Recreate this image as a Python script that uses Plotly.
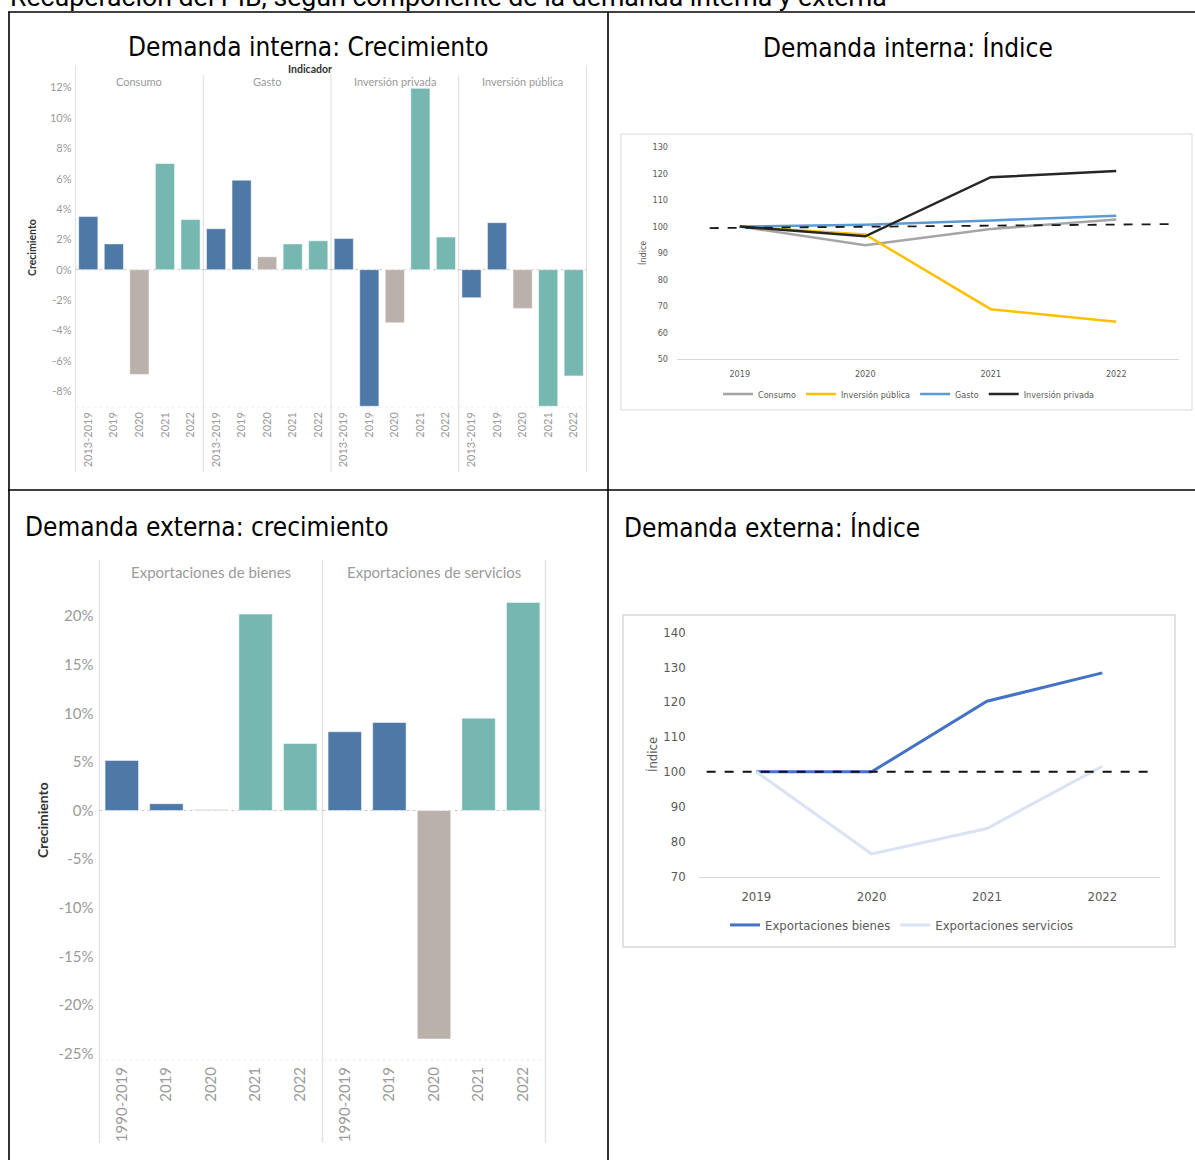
import plotly.graph_objects as go

W, H = 1195, 1160
def px(x): return x / W
def py(y): return 1 - y / H

# ---------------- DATA ----------------
main_title = "Recuperación del PIB, según componente de la demanda interna y externa"

# Panel 1: demanda interna, crecimiento (%)
periods_int = ["2013-2019", "2019", "2020", "2021", "2022"]
indicadores = ["Consumo", "Gasto", "Inversión privada", "Inversión pública"]
crec_consumo = [3.5, 1.7, -6.9, 7.0, 3.3]
crec_gasto = [2.7, 5.9, 0.85, 1.7, 1.9]
crec_inv_priv = [2.05, -9.0, -3.5, 11.95, 2.15]
crec_inv_pub = [-1.85, 3.1, -2.55, -9.0, -7.0]
yticks_int = [-8, -6, -4, -2, 0, 2, 4, 6, 8, 10, 12]
yticklabels_int = ["-8%", "-6%", "-4%", "-2%", "0%", "2%", "4%", "6%", "8%", "10%", "12%"]

# Panel 2: demanda interna, índice
years = ["2019", "2020", "2021", "2022"]
idx_consumo = [100, 92.9, 99.1, 102.6]
idx_inv_pub = [100, 97.0, 68.8, 64.1]
idx_gasto = [100, 100.7, 102.3, 104.1]
idx_inv_priv = [100, 96.3, 118.6, 120.9]
ref_int_x = [-0.24, 3.42]
ref_int_y = [99.4, 100.9]

# Panel 3: demanda externa, crecimiento (%)
periods_ext = ["1990-2019", "2019", "2020", "2021", "2022"]
exportaciones = ["Exportaciones de bienes", "Exportaciones de servicios"]
crec_bienes = [5.15, 0.7, 0.1, 20.2, 6.9]
crec_servicios = [8.1, 9.05, -23.5, 9.5, 21.4]
yticks_ext = [-25, -20, -15, -10, -5, 0, 5, 10, 15, 20]
yticklabels_ext = ["-25%", "-20%", "-15%", "-10%", "-5%", "0%", "5%", "10%", "15%", "20%"]

# Panel 4: demanda externa, índice
idx_bienes = [100, 100, 120.2, 128.3]
idx_servicios = [100, 76.5, 83.8, 101.6]
ref_ext_x = [-0.43, 3.41]
ref_ext_y = [100, 100]

# ---------------- STYLE ----------------
period_colors = ["#4e79a7", "#4e79a7", "#bab0ac", "#76b7b2", "#76b7b2"]
TAB_FONT = "Lato, 'Open Sans', sans-serif"
XL_FONT = "'DejaVu Sans Condensed', Lato, sans-serif"
TITLE_FONT = "'DejaVu Sans Condensed', Roboto, sans-serif"
TAB_GRAY = "#9a9a9a"
XL_GRAY = "#595959"

fig = go.Figure()
layout = dict(
    template="none",
    width=W, height=H, margin=dict(l=0, r=0, t=0, b=0, pad=0, autoexpand=False),
    paper_bgcolor="white", plot_bgcolor="rgba(0,0,0,0)",
    showlegend=True, bargap=0.25,
)

# ---- Panel 1 bars ----
p1_edges = [75.5, 203.3, 331.0, 458.7, 586.5]
p1_top, p1_bot = 87, 407
p1_range = [-9.05, 12.04]
series_int = [crec_consumo, crec_gasto, crec_inv_priv, crec_inv_pub]
for i, vals in enumerate(series_int):
    k = i + 1
    sx = "" if k == 1 else str(k)
    fig.add_trace(go.Bar(
        x=periods_int, y=vals, xaxis="x" + sx, yaxis="y" + sx,
        marker=dict(color=period_colors, line=dict(color="rgba(255,255,255,0.5)", width=1)),
        width=0.75, showlegend=False, name=indicadores[i]))
    layout["xaxis" + sx] = dict(
        domain=[px(p1_edges[i]), px(p1_edges[i + 1])], anchor="y" + sx,
        type="category", range=[-0.5, 4.5], tickangle=-90, automargin=False,
        tickfont=dict(family=TAB_FONT, size=11, color=TAB_GRAY),
        showgrid=False, zeroline=False, showline=False, ticks="", ticklabelstandoff=2)
    layout["yaxis" + sx] = dict(
        domain=[py(p1_bot), py(p1_top)], anchor="x" + sx, range=p1_range, automargin=False,
        showgrid=False, zeroline=False, showline=False,
        tickvals=yticks_int, ticktext=yticklabels_int, showticklabels=(k == 1),
        tickfont=dict(family=TAB_FONT, size=11, color=TAB_GRAY), ticks="",
        ticklabelstandoff=3)

# ---- Panel 3 bars ----
p3_edges = [99.5, 322.5, 545.5]
p3_top, p3_bot = 582, 1060
p3_range = [-25.66, 23.5]
series_ext = [crec_bienes, crec_servicios]
for i, vals in enumerate(series_ext):
    k = i + 5
    sx = str(k)
    fig.add_trace(go.Bar(
        x=periods_ext, y=vals, xaxis="x" + sx, yaxis="y" + sx,
        marker=dict(color=period_colors, line=dict(color="rgba(255,255,255,0.5)", width=1)),
        width=0.75, showlegend=False, name=exportaciones[i]))
    layout["xaxis" + sx] = dict(
        domain=[px(p3_edges[i]), px(p3_edges[i + 1])], anchor="y" + sx,
        type="category", range=[-0.5, 4.5], tickangle=-90, automargin=False,
        tickfont=dict(family=TAB_FONT, size=15, color=TAB_GRAY),
        showgrid=False, zeroline=False, showline=False, ticks="", ticklabelstandoff=3)
    layout["yaxis" + sx] = dict(
        domain=[py(p3_bot), py(p3_top)], anchor="x" + sx, range=p3_range, automargin=False,
        showgrid=False, zeroline=False, showline=False,
        tickvals=yticks_ext, ticktext=yticklabels_ext, showticklabels=(k == 5),
        tickfont=dict(family=TAB_FONT, size=15, color=TAB_GRAY), ticks="",
        ticklabelstandoff=5)

# ---- Panel 2 lines ----
xpos = list(range(len(years)))
line_int = [("Consumo", idx_consumo, "#a5a5a5"),
            ("Inversión pública", idx_inv_pub, "#ffc000"),
            ("Gasto", idx_gasto, "#5b9bd5"),
            ("Inversión privada", idx_inv_priv, "#262626")]
for name, vals, col in line_int:
    fig.add_trace(go.Scatter(x=xpos, y=vals, mode="lines", name=name,
                             line=dict(color=col, width=2.5),
                             xaxis="x7", yaxis="y7", legend="legend"))
fig.add_trace(go.Scatter(x=ref_int_x, y=ref_int_y, mode="lines", showlegend=False,
                         line=dict(color="#1a1a1a", width=1.8, dash="dash"),
                         xaxis="x7", yaxis="y7"))
layout["xaxis7"] = dict(
    domain=[px(677), px(1179)], anchor="y7", range=[-0.5, 3.5], automargin=False,
    tickvals=xpos, ticktext=years, showgrid=False, zeroline=False,
    showline=True, linecolor="#d9d9d9", linewidth=1, ticks="",
    tickfont=dict(family=XL_FONT, size=9, color=XL_GRAY), ticklabelstandoff=6)
layout["yaxis7"] = dict(
    domain=[py(359), py(147)], anchor="x7", range=[50, 130], dtick=10, automargin=False,
    showgrid=False, zeroline=False, showline=False, ticks="",
    tickfont=dict(family=XL_FONT, size=9, color=XL_GRAY), ticklabelstandoff=8)
layout["legend"] = dict(
    orientation="h", x=px(909), xanchor="center", y=py(394), yanchor="middle",
    font=dict(family=XL_FONT, size=9, color=XL_GRAY), itemwidth=30,
    bgcolor="rgba(0,0,0,0)", tracegroupgap=0)

# ---- Panel 4 lines ----
line_ext = [("Exportaciones bienes", idx_bienes, "#4472c4"),
            ("Exportaciones servicios", idx_servicios, "#dae3f3")]
for name, vals, col in line_ext:
    fig.add_trace(go.Scatter(x=xpos, y=vals, mode="lines", name=name,
                             line=dict(color=col, width=3),
                             xaxis="x8", yaxis="y8", legend="legend2"))
fig.add_trace(go.Scatter(x=ref_ext_x, y=ref_ext_y, mode="lines", showlegend=False,
                         line=dict(color="#111111", width=2, dash="dash"),
                         xaxis="x8", yaxis="y8"))
layout["xaxis8"] = dict(
    domain=[px(698.6), px(1160)], anchor="y8", range=[-0.5, 3.5], automargin=False,
    tickvals=xpos, ticktext=years, showgrid=False, zeroline=False,
    showline=True, linecolor="#d9d9d9", linewidth=1, ticks="",
    tickfont=dict(family=XL_FONT, size=13, color=XL_GRAY), ticklabelstandoff=8)
layout["yaxis8"] = dict(
    domain=[py(876.7), py(632)], anchor="x8", range=[70, 140], dtick=10, automargin=False,
    showgrid=False, zeroline=False, showline=False, ticks="",
    tickfont=dict(family=XL_FONT, size=13, color=XL_GRAY), ticklabelstandoff=12)
layout["legend2"] = dict(
    orientation="h", x=px(902), xanchor="center", y=py(925), yanchor="middle",
    font=dict(family=XL_FONT, size=13, color=XL_GRAY), itemwidth=30,
    bgcolor="rgba(0,0,0,0)")

fig.update_layout(**layout)

# ---------------- SHAPES ----------------
shapes = []
def line(x0, y0, x1, y1, color, width, dash="solid"):
    shapes.append(dict(type="line", xref="paper", yref="paper",
                       x0=px(x0), y0=py(y0), x1=px(x1), y1=py(y1),
                       line=dict(color=color, width=width, dash=dash), layer="below"))

# table borders
line(8, 12, 1195, 12, "black", 1.6)
line(8, 490, 1195, 490, "black", 1.6)
line(9, 12, 9, 1160, "black", 1.6)
line(608, 12, 608, 1160, "black", 1.6)

# panel 1 pane dividers
for j, e in enumerate(p1_edges):
    top = 65 if j in (0, len(p1_edges) - 1) else 75
    line(e, top, e, 472, "#e3e3e3", 1.2)
# panel 3 pane dividers
for j, e in enumerate(p3_edges):
    line(e, 560, e, 1143, "#e3e3e3", 1.5)

# dotted zero / bottom lines in Tableau panes
for k in range(1, 7):
    sx = "" if k == 1 else str(k)
    shapes.append(dict(type="line", xref="x" + sx + " domain", yref="y" + sx,
                       x0=0, x1=1, y0=0, y1=0,
                       line=dict(color="#c8c8c8", width=1, dash="dot"), layer="below"))
    shapes.append(dict(type="line", xref="x" + sx + " domain", yref="y" + sx + " domain",
                       x0=0, x1=1, y0=0, y1=0,
                       line=dict(color="#ececec", width=1, dash="dot"), layer="below"))

# Excel chart boxes
shapes.append(dict(type="rect", xref="paper", yref="paper",
                   x0=px(621), y0=py(410), x1=px(1192), y1=py(134),
                   line=dict(color="#d9d9d9", width=1), layer="below"))
shapes.append(dict(type="rect", xref="paper", yref="paper",
                   x0=px(623), y0=py(947), x1=px(1175), y1=py(615),
                   line=dict(color="#d9d9d9", width=1.5), layer="below"))
fig.update_layout(shapes=shapes)

# ---------------- ANNOTATIONS ----------------
ann = []
def text(t, x, y, size, color, family, xanchor="center", yanchor="middle", angle=0, bold=False):
    ann.append(dict(text=("<b>%s</b>" % t) if bold else t, x=px(x), y=py(y),
                    xref="paper", yref="paper", showarrow=False,
                    xanchor=xanchor, yanchor=yanchor, textangle=angle,
                    font=dict(size=size, color=color, family=family)))

text(main_title, 8, -3, 26.7, "black", "Roboto, sans-serif", xanchor="left")
text("Demanda interna: Crecimiento", 308, 47, 26, "black", TITLE_FONT)
text("Demanda interna: Índice", 908, 47, 26, "black", TITLE_FONT)
text("Demanda externa: crecimiento", 23, 527, 26, "black", TITLE_FONT, xanchor="left")
text("Demanda externa: Índice", 622, 527, 26, "black", TITLE_FONT, xanchor="left")

text("Indicador", 310, 69, 10.5, "#333333", TAB_FONT, bold=True)
for i, name in enumerate(indicadores):
    text(name, (p1_edges[i] + p1_edges[i + 1]) / 2, 82, 11, TAB_GRAY, TAB_FONT)
for i, name in enumerate(exportaciones):
    text(name, (p3_edges[i] + p3_edges[i + 1]) / 2, 572, 15, TAB_GRAY, TAB_FONT)

text("Crecimiento", 32, 247, 10.5, "#333333", TAB_FONT, angle=-90, bold=True)
text("Crecimiento", 42, 820, 14, "#333333", TAB_FONT, angle=-90, bold=True)
text("Índice", 643, 253, 9, XL_GRAY, XL_FONT, angle=-90)
text("Índice", 652, 755, 13, XL_GRAY, XL_FONT, angle=-90)
fig.update_layout(annotations=ann)

fig.write_html("out.html", config={"displayModeBar": False},
               post_script="document.body.style.margin='0';document.body.style.overflow='hidden';")
